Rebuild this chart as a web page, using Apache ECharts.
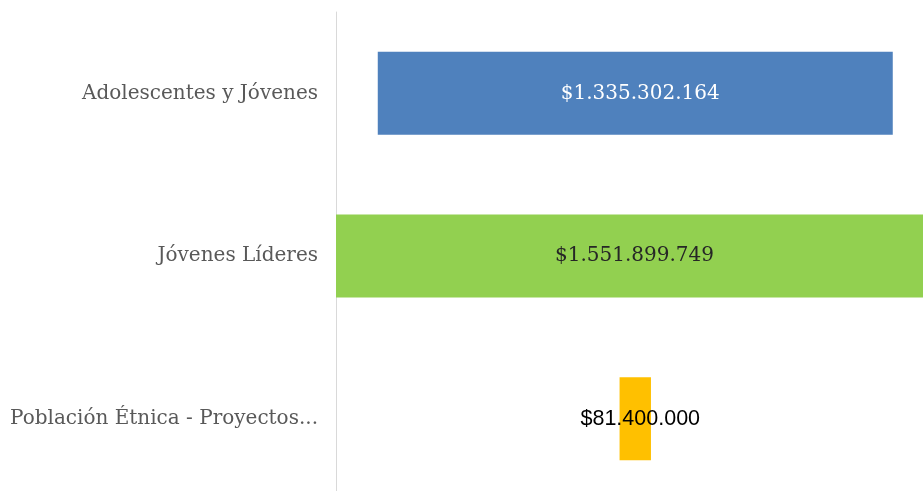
<!DOCTYPE html>
<html>
<head>
<meta charset="utf-8">
<script src="https://cdn.jsdelivr.net/npm/echarts@6/dist/echarts.min.js"></script>
<style>
  html, body { margin: 0; padding: 0; background: #fff; overflow: hidden; }
  #main { width: 923px; height: 500px; }
</style>
</head>
<body>
<div id="main"></div>
<script>
// datos del gráfico
var categorias = ['Adolescentes y Jóvenes', 'Jóvenes Líderes', 'Población Étnica - Proyectos...'];
var valores = [1335302164, 1551899749, 81400000];
var etiquetas = ['$1.335.302.164', '$1.551.899.749', '$81.400.000'];
var colores = ['#4F81BD', '#92D050', '#FFC000'];

// barras centradas: un relleno invisible a la izquierda
var maximo = Math.max.apply(null, valores);
var relleno = valores.map(function (v) { return (maximo - v) / 2; });

var labelStyles = [
    { color: '#ffffff', fontFamily: 'DejaVu Serif', fontSize: 20 },
    { color: '#262626', fontFamily: 'DejaVu Serif', fontSize: 20 },
    { color: '#000000', fontFamily: 'Liberation Sans', fontSize: 21.5 }
];

var myChart = echarts.init(document.getElementById('main'));

var option = {
    animation: false,
    grid: { left: 336, right: 0, top: 12, bottom: 0 },
    xAxis: {
        type: 'value',
        min: 0,
        max: 1522000000,
        show: false
    },
    yAxis: {
        type: 'category',
        inverse: true,
        data: categorias,
        axisLine: { show: true, lineStyle: { color: '#d9d9d9', width: 1 } },
        axisTick: { show: false },
        axisLabel: {
            color: '#595959',
            fontFamily: 'DejaVu Serif',
            fontSize: 20,
            margin: 18
        }
    },
    series: [
        {
            type: 'bar',
            stack: 'total',
            barWidth: '51%',
            itemStyle: { color: 'transparent' },
            data: relleno,
            silent: true
        },
        {
            type: 'bar',
            stack: 'total',
            barWidth: '51%',
            data: valores.map(function (v, i) {
                return {
                    value: v,
                    itemStyle: { color: colores[i] },
                    label: {
                        show: true,
                        position: 'inside',
                        offset: [5, 0],
                        formatter: etiquetas[i],
                        color: labelStyles[i].color,
                        fontFamily: labelStyles[i].fontFamily,
                        fontSize: labelStyles[i].fontSize
                    }
                };
            })
        }
    ]
};
myChart.setOption(option);
</script>
</body>
</html>
